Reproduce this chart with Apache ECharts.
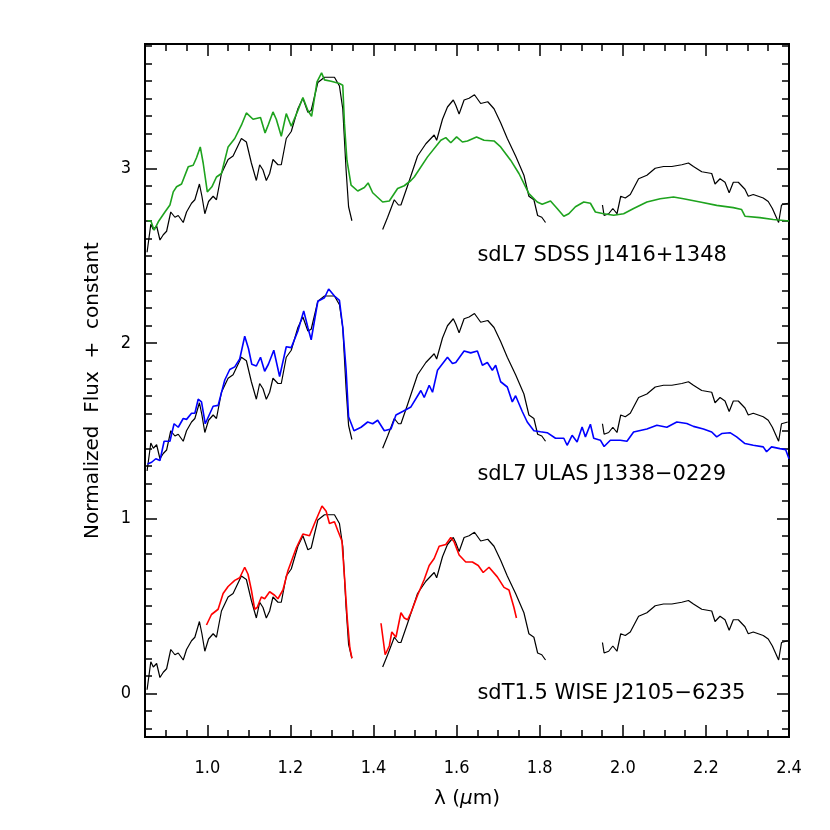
<!DOCTYPE html>
<html>
<head>
<meta charset="utf-8">
<title>sd spectra</title>
<script src="https://cdn.jsdelivr.net/npm/echarts@6.0.0/dist/echarts.min.js"></script>
<style>
  html, body { margin: 0; padding: 0; background: #fff; }
  #chart { width: 830px; height: 830px; }
</style>
</head>
<body>
<div id="chart"></div>
<script>
// tick positions
const majorX = [1.0, 1.2, 1.4, 1.6, 1.8, 2.0, 2.2, 2.4];
const minorX = [0.85, 0.90, 0.95, 1.00, 1.05, 1.10, 1.15, 1.20, 1.25, 1.30, 1.35, 1.40, 1.45, 1.50,
  1.55, 1.60, 1.65, 1.70, 1.75, 1.80, 1.85, 1.90, 1.95, 2.00, 2.05, 2.10, 2.15, 2.20, 2.25, 2.30, 2.35, 2.40];
const majorY = [0, 1, 2, 3];
const minorY = [-0.2, -0.1, 0.1, 0.2, 0.3, 0.4, 0.5, 0.6, 0.7, 0.8, 0.9, 1.1, 1.2, 1.3, 1.4, 1.5, 1.6, 1.7, 1.8, 1.9,
  2.1, 2.2, 2.3, 2.4, 2.5, 2.6, 2.7, 2.8, 2.9, 3.1, 3.2, 3.3, 3.4, 3.5, 3.6, 3.7];

// standard (black) spectrum, normalized, three bands
const stdJ = [[0.855, 0.02], [0.864, 0.18], [0.870, 0.15], [0.878, 0.17], [0.886, 0.09], [0.894, 0.12], [0.902, 0.14],
  [0.912, 0.25], [0.922, 0.22], [0.930, 0.23], [0.942, 0.19], [0.950, 0.25], [0.962, 0.30], [0.970, 0.32],
  [0.981, 0.41], [0.987, 0.34], [0.994, 0.24], [1.003, 0.31], [1.014, 0.34], [1.022, 0.32], [1.034, 0.47],
  [1.050, 0.55], [1.062, 0.57], [1.082, 0.67], [1.094, 0.65], [1.106, 0.53], [1.118, 0.43], [1.126, 0.52],
  [1.134, 0.49], [1.142, 0.43], [1.150, 0.47], [1.158, 0.55], [1.170, 0.52], [1.178, 0.52], [1.190, 0.67],
  [1.202, 0.71], [1.218, 0.84], [1.230, 0.90], [1.242, 0.82], [1.250, 0.83], [1.266, 0.99], [1.282, 1.02],
  [1.306, 1.02], [1.318, 0.97], [1.326, 0.84], [1.334, 0.49], [1.340, 0.28], [1.348, 0.20]];
const stdH = [[1.422, 0.15], [1.434, 0.22], [1.450, 0.32], [1.460, 0.29], [1.466, 0.29], [1.482, 0.40], [1.506, 0.57],
  [1.526, 0.64], [1.546, 0.69], [1.552, 0.66], [1.566, 0.78], [1.578, 0.85], [1.592, 0.89], [1.598, 0.86],
  [1.606, 0.81], [1.618, 0.89], [1.630, 0.90], [1.643, 0.92], [1.658, 0.87], [1.675, 0.88], [1.690, 0.84],
  [1.706, 0.76], [1.722, 0.67], [1.742, 0.57], [1.762, 0.46], [1.774, 0.34], [1.786, 0.32], [1.795, 0.23],
  [1.805, 0.22], [1.814, 0.19]];
const stdK = [[1.951, 0.29], [1.955, 0.23], [1.966, 0.24], [1.976, 0.27], [1.986, 0.24], [1.995, 0.34], [2.006, 0.33],
  [2.018, 0.35], [2.038, 0.44], [2.058, 0.46], [2.078, 0.50], [2.098, 0.51], [2.118, 0.51], [2.142, 0.52],
  [2.158, 0.53], [2.170, 0.51], [2.190, 0.48], [2.214, 0.47], [2.222, 0.41], [2.234, 0.44], [2.246, 0.42],
  [2.256, 0.36], [2.266, 0.42], [2.278, 0.42], [2.294, 0.38], [2.302, 0.34], [2.314, 0.35], [2.326, 0.34],
  [2.338, 0.33], [2.350, 0.31], [2.360, 0.27], [2.375, 0.19], [2.382, 0.29], [2.397, 0.30]];

// constants added to each pair
const offsets = [2.5, 1.25, 0];
const names = ['sdL7 SDSS J1416+1348', 'sdL7 ULAS J1338\u22120229', 'sdT1.5 WISE J2105\u22126235'];
const colors = ['#1ea31e', '#0000ff', '#ff0000'];

// sdL7 SDSS J1416+1348 (already shifted)
const sdss = [[0.856, 2.70], [0.864, 2.70], [0.872, 2.646], [0.882, 2.694], [0.898, 2.75], [0.910, 2.79], [0.918, 2.865],
  [0.926, 2.894], [0.938, 2.91], [0.954, 3.008], [0.966, 3.017], [0.974, 3.06], [0.983, 3.122], [0.990, 3.03],
  [1.000, 2.865], [1.011, 2.894], [1.022, 2.95], [1.034, 2.97], [1.050, 3.122], [1.066, 3.17], [1.082, 3.246],
  [1.094, 3.316], [1.110, 3.28], [1.128, 3.29], [1.139, 3.202], [1.147, 3.25], [1.158, 3.322], [1.166, 3.28],
  [1.178, 3.183], [1.190, 3.312], [1.202, 3.24], [1.218, 3.33], [1.230, 3.404], [1.242, 3.33], [1.251, 3.297],
  [1.264, 3.493], [1.275, 3.545], [1.282, 3.505], [1.298, 3.497], [1.318, 3.484], [1.326, 3.474], [1.330, 3.255],
  [1.336, 3.046], [1.346, 2.903], [1.362, 2.87], [1.378, 2.89], [1.387, 2.916], [1.398, 2.86], [1.422, 2.807],
  [1.438, 2.813], [1.458, 2.884], [1.474, 2.90], [1.490, 2.93], [1.498, 2.95], [1.530, 3.065], [1.562, 3.16],
  [1.574, 3.175], [1.586, 3.146], [1.600, 3.179], [1.614, 3.15], [1.626, 3.156], [1.648, 3.179], [1.666, 3.16],
  [1.690, 3.156], [1.706, 3.122], [1.730, 3.046], [1.750, 2.97], [1.774, 2.855], [1.794, 2.807], [1.806, 2.794],
  [1.826, 2.813], [1.842, 2.77], [1.858, 2.726], [1.870, 2.74], [1.886, 2.78], [1.906, 2.807], [1.922, 2.80],
  [1.934, 2.75], [1.954, 2.74], [1.978, 2.731], [2.002, 2.74], [2.026, 2.77], [2.058, 2.807], [2.090, 2.826],
  [2.122, 2.836], [2.146, 2.826], [2.186, 2.807], [2.226, 2.788], [2.266, 2.775], [2.286, 2.764], [2.294, 2.726],
  [2.330, 2.718], [2.362, 2.707], [2.400, 2.699]];

// sdL7 ULAS J1338-0229
const ulas = [[0.856, 1.31], [0.866, 1.32], [0.876, 1.34], [0.886, 1.33], [0.896, 1.44], [0.910, 1.44], [0.920, 1.54],
  [0.930, 1.52], [0.942, 1.57], [0.950, 1.565], [0.962, 1.60], [0.970, 1.60], [0.978, 1.68], [0.986, 1.665],
  [0.995, 1.54], [1.014, 1.64], [1.026, 1.645], [1.042, 1.79], [1.054, 1.85], [1.066, 1.865], [1.078, 1.91],
  [1.090, 2.04], [1.099, 1.97], [1.107, 1.88], [1.118, 1.87], [1.128, 1.92], [1.138, 1.84], [1.147, 1.88],
  [1.160, 1.96], [1.174, 1.81], [1.190, 1.98], [1.202, 1.975], [1.218, 2.07], [1.232, 2.185], [1.242, 2.09],
  [1.250, 2.02], [1.266, 2.24], [1.282, 2.26], [1.292, 2.31], [1.306, 2.27], [1.318, 2.245], [1.326, 2.09],
  [1.334, 1.85], [1.340, 1.58], [1.353, 1.50], [1.370, 1.52], [1.386, 1.55], [1.398, 1.54], [1.410, 1.56],
  [1.426, 1.50], [1.442, 1.51], [1.454, 1.59], [1.470, 1.61], [1.490, 1.636], [1.514, 1.73], [1.522, 1.69],
  [1.534, 1.76], [1.542, 1.72], [1.554, 1.846], [1.578, 1.92], [1.590, 1.884], [1.598, 1.89], [1.618, 1.956],
  [1.634, 1.945], [1.650, 1.956], [1.662, 1.874], [1.674, 1.89], [1.686, 1.846], [1.694, 1.874], [1.706, 1.78],
  [1.722, 1.75], [1.734, 1.665], [1.742, 1.70], [1.758, 1.61], [1.770, 1.55], [1.786, 1.50], [1.802, 1.494],
  [1.818, 1.489], [1.838, 1.457], [1.858, 1.457], [1.866, 1.417], [1.878, 1.474], [1.890, 1.436], [1.902, 1.522],
  [1.910, 1.465], [1.922, 1.537], [1.930, 1.457], [1.946, 1.446], [1.955, 1.41], [1.970, 1.446], [1.994, 1.446],
  [2.010, 1.44], [2.026, 1.493], [2.058, 1.51], [2.082, 1.531], [2.106, 1.52], [2.130, 1.55], [2.154, 1.541],
  [2.170, 1.525], [2.194, 1.51], [2.214, 1.493], [2.226, 1.465], [2.238, 1.484], [2.258, 1.489], [2.274, 1.465],
  [2.294, 1.427], [2.314, 1.417], [2.338, 1.408], [2.346, 1.38], [2.358, 1.408], [2.378, 1.398], [2.392, 1.392],
  [2.400, 1.34]];

// sdT1.5 WISE J2105-6235
const wiseJ = [[0.998, 0.39], [1.010, 0.45], [1.026, 0.48], [1.038, 0.57], [1.050, 0.61], [1.066, 0.645], [1.078, 0.66],
  [1.090, 0.72], [1.098, 0.68], [1.106, 0.59], [1.114, 0.48], [1.120, 0.49], [1.130, 0.55], [1.138, 0.54],
  [1.150, 0.58], [1.162, 0.56], [1.170, 0.54], [1.182, 0.59], [1.194, 0.70], [1.214, 0.83], [1.230, 0.91],
  [1.246, 0.90], [1.258, 0.97], [1.276, 1.07], [1.286, 1.04], [1.294, 0.97], [1.306, 0.98], [1.314, 0.93],
  [1.324, 0.87], [1.330, 0.67], [1.337, 0.42], [1.343, 0.26], [1.348, 0.20]];
const wiseH = [[1.418, 0.40], [1.428, 0.22], [1.438, 0.27], [1.444, 0.35], [1.454, 0.32], [1.466, 0.46], [1.474, 0.43],
  [1.482, 0.42], [1.490, 0.46], [1.506, 0.56], [1.522, 0.65], [1.534, 0.73], [1.546, 0.77], [1.558, 0.84],
  [1.574, 0.85], [1.586, 0.89], [1.594, 0.865], [1.606, 0.79], [1.622, 0.75], [1.638, 0.75], [1.652, 0.73],
  [1.664, 0.69], [1.678, 0.72], [1.698, 0.665], [1.714, 0.605], [1.726, 0.59], [1.738, 0.49], [1.744, 0.43]];

const labelX = 1.65;
const GAP = ['-', '-'];

const FONT = "'DejaVu Sans', 'Noto Sans', sans-serif";
const TICKFONT = "'DejaVu Sans Condensed', 'Liberation Sans Narrow', 'DejaVu Sans', sans-serif";

function joinSegs(segs, shift) {
  let out = [];
  segs.forEach((s, i) => {
    if (i > 0) out.push(GAP);
    s.forEach(p => out.push([p[0], +(p[1] + shift).toFixed(3)]));
  });
  return out;
}

function xAx(pos, ticks, len, label) {
  return {
    type: 'value', position: pos, min: 0.85, max: 2.4,
    axisLine: { show: true, onZero: false, lineStyle: { color: '#000', width: 2 } },
    axisTick: { show: true, inside: true, length: len, customValues: ticks, lineStyle: { color: '#000', width: 1.5 } },
    axisLabel: label ? {
      show: true, customValues: majorX, margin: 22, color: '#000', fontFamily: TICKFONT, fontSize: 18,
      formatter: v => v.toFixed(1),
    } : { show: false },
    splitLine: { show: false },
    name: label ? '{n|\u03bb (}{i|\u03bc}{n|m)}' : '',
    nameLocation: 'middle', nameGap: 52,
    nameTextStyle: {
      rich: {
        n: { fontFamily: FONT, fontSize: 20, color: '#000' },
        i: { fontFamily: FONT, fontSize: 20, color: '#000', fontStyle: 'italic' },
      },
    },
  };
}

function yAx(pos, ticks, len, label) {
  return {
    type: 'value', position: pos, min: -0.25, max: 3.71,
    axisLine: { show: true, onZero: false, lineStyle: { color: '#000', width: 2 } },
    axisTick: { show: true, inside: true, length: len, customValues: ticks, lineStyle: { color: '#000', width: 1.5 } },
    axisLabel: label ? {
      show: true, customValues: majorY, margin: 14, color: '#000', fontFamily: TICKFONT, fontSize: 18,
    } : { show: false },
    splitLine: { show: false },
    name: label ? 'Normalized  Flux  +  constant' : '',
    nameLocation: 'middle', nameGap: 42, nameRotate: 90,
    nameTextStyle: { fontFamily: FONT, fontSize: 20, color: '#000' },
  };
}

const chart = echarts.init(document.getElementById('chart'));

const stdSeries = offsets.map(off => ({
  type: 'line', xAxisIndex: 0, yAxisIndex: 0, symbol: 'none', connectNulls: false,
  lineStyle: { color: '#000', width: 1.2 }, z: 2, animation: false,
  data: joinSegs([stdJ, stdH, stdK], off),
}));

const objSeries = [
  joinSegs([sdss], 0), joinSegs([ulas], 0), joinSegs([wiseJ, wiseH], 0),
].map((d, i) => ({
  type: 'line', xAxisIndex: 0, yAxisIndex: 0, symbol: 'none', connectNulls: false,
  lineStyle: { color: colors[i], width: 1.6 }, z: 3, animation: false, data: d,
}));

const labelSeries = {
  type: 'scatter', xAxisIndex: 0, yAxisIndex: 0, symbolSize: 0, animation: false, silent: true,
  itemStyle: { opacity: 1 },
  data: names.map((n, i) => ({ value: [labelX, offsets[i]], name: n })),
  label: {
    show: true, position: 'right', distance: 0, formatter: p => p.name,
    color: '#000', opacity: 1, fontFamily: FONT, fontSize: 21,
  },
};

chart.setOption({
  backgroundColor: '#fff',
  animation: false,
  grid: { left: 145, right: 41, top: 44, bottom: 93, containLabel: false },
  xAxis: [
    xAx('bottom', majorX, 12, true),
    xAx('bottom', minorX, 7, false),
    xAx('top', majorX, 12, false),
    xAx('top', minorX, 7, false),
  ],
  yAxis: [
    yAx('left', majorY, 12, true),
    yAx('left', minorY, 7, false),
    yAx('right', majorY, 12, false),
    yAx('right', minorY, 7, false),
  ],
  series: [...stdSeries, ...objSeries, labelSeries],
});
</script>
</body>
</html>
